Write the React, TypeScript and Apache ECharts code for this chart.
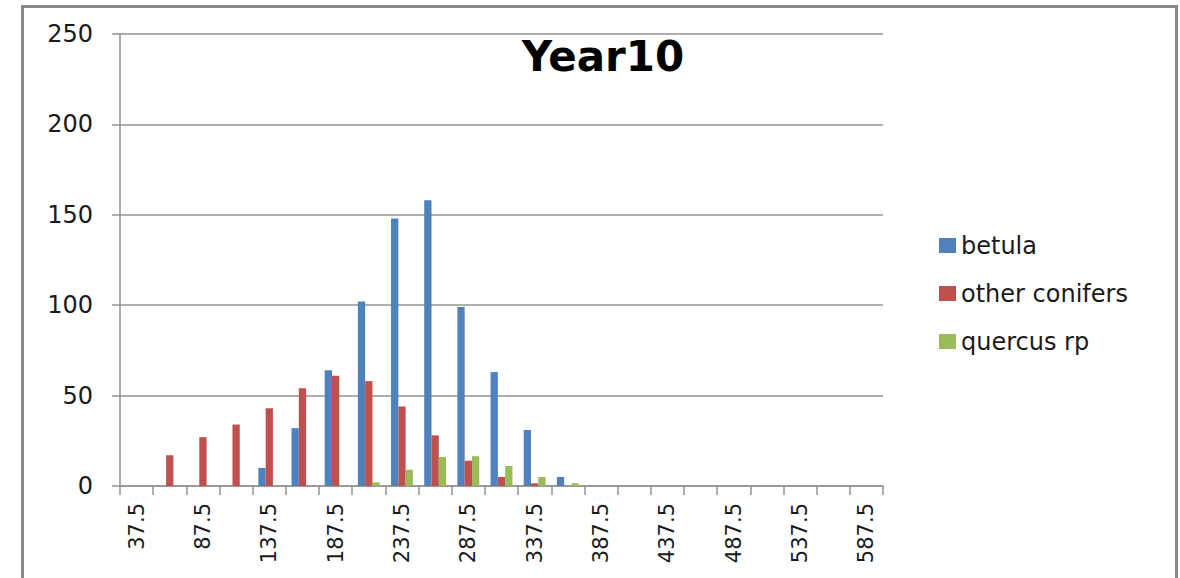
import React, { useEffect, useRef } from "react";
import * as echarts from "echarts";

// Diameter classes (upper-bound midpoints, step 25)
const categories: string[] = [
  "37.5", "62.5", "87.5", "112.5", "137.5", "162.5", "187.5", "212.5",
  "237.5", "262.5", "287.5", "312.5", "337.5", "362.5", "387.5", "412.5",
  "437.5", "462.5", "487.5", "512.5", "537.5", "562.5", "587.5",
];

const betula: number[] = [
  0, 0, 0, 0, 10, 32, 64, 102, 148, 158, 99, 63, 31, 5, 0, 0, 0, 0, 0, 0, 0, 0, 0,
];
const otherConifers: number[] = [
  0, 17, 27, 34, 43, 54, 61, 58, 44, 28, 14, 5, 1.5, 0, 0, 0, 0, 0, 0, 0, 0, 0, 0,
];
const quercusRp: number[] = [
  0, 0, 0, 0, 0, 0, 0, 2, 9, 16, 16.5, 11, 5, 1.5, 0, 0, 0, 0, 0, 0, 0, 0, 0,
];

const seriesNames = ["betula", "other conifers", "quercus rp"];
const seriesColors = ["#4F81BD", "#C0504D", "#9BBB59"];

const FONT = "DejaVu Sans";
const GRID_COLOR = "#939393";

export default function App() {
  const ref = useRef<HTMLDivElement | null>(null);

  useEffect(() => {
    if (!ref.current) return;
    const chart = echarts.init(ref.current, undefined, { renderer: "svg" });
    const data = [betula, otherConifers, quercusRp];

    chart.setOption({
      animation: false,
      backgroundColor: "#ffffff",
      title: {
        text: "Year10",
        left: 598,
        top: 30,
        textAlign: "center",
        textStyle: {
          fontFamily: FONT,
          fontWeight: "bold",
          fontSize: 42,
          color: "#000000",
        },
      },
      legend: {
        orient: "vertical",
        left: 934,
        top: 228,
        itemWidth: 17,
        itemHeight: 15,
        itemGap: 23,
        icon: "rect",
        textStyle: {
          fontFamily: FONT,
          fontSize: 24,
          lineHeight: 25,
          color: "#1a1a1a",
          padding: [0, 0, 0, 0],
        },
        data: seriesNames,
      },
      grid: {
        left: 120,
        right: 297,
        top: 34,
        bottom: 92,
        containLabel: false,
      },
      xAxis: {
        type: "category",
        data: categories,
        boundaryGap: true,
        axisLine: { lineStyle: { color: GRID_COLOR, width: 1.5 } },
        axisTick: {
          show: true,
          alignWithLabel: false,
          interval: 0,
          length: 9,
          lineStyle: { color: GRID_COLOR, width: 1.5 },
        },
        axisLabel: {
          interval: 1,
          rotate: 90,
          margin: 17,
          fontFamily: FONT,
          fontSize: 21,
          color: "#1a1a1a",
        },
      },
      yAxis: {
        type: "value",
        min: 0,
        max: 250,
        interval: 50,
        axisLine: { show: true, lineStyle: { color: GRID_COLOR, width: 1.5 } },
        axisTick: {
          show: true,
          length: 8,
          lineStyle: { color: GRID_COLOR, width: 1.5 },
        },
        splitLine: { show: true, lineStyle: { color: GRID_COLOR, width: 1.5 } },
        axisLabel: {
          margin: 27,
          fontFamily: FONT,
          fontSize: 24,
          color: "#1a1a1a",
        },
      },
      series: seriesNames.map((name, i) => ({
        name,
        type: "bar",
        data: data[i],
        barGap: "0%",
        barCategoryGap: "34%",
        itemStyle: { color: seriesColors[i] },
      })),
      graphic: [
        {
          type: "rect",
          left: 20,
          top: 4,
          shape: { x: 0, y: 0, width: 1154, height: 620 },
          style: { fill: "none", stroke: "#878787", lineWidth: 3 },
          silent: true,
        },
      ],
    });

    return () => {
      chart.dispose();
    };
  }, []);

  return (
    <div
      ref={ref}
      style={{ position: "fixed", left: 0, top: 0, width: 1180, height: 578 }}
    />
  );
}
